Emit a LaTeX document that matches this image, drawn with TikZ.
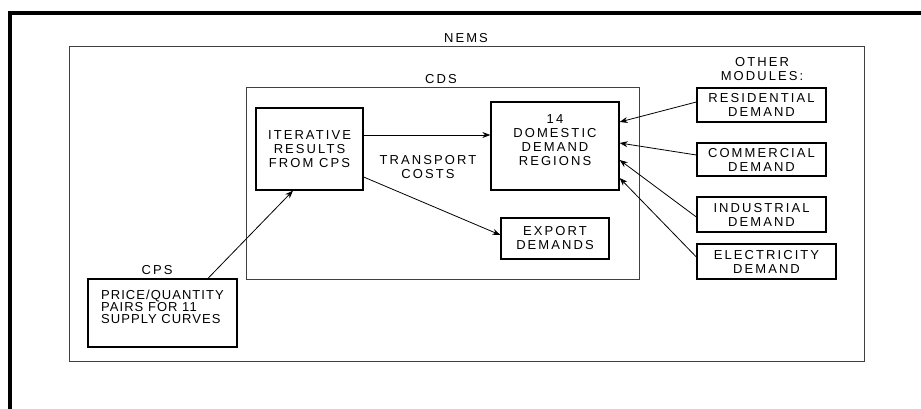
\documentclass[tikz,border=0pt]{standalone}
\usepackage{fontspec}
\setmainfont{Liberation Sans}[LetterSpace=16]
\newfontfamily\cpsfont{Liberation Sans}[LetterSpace=8]
\usetikzlibrary{arrows.meta}

\begin{document}
\begin{tikzpicture}[x = 1pt, y = -1pt, % one unit per pixel, y downwards
                > = {Stealth[length=8pt, width=6pt]}, % arrow head style
                line width = 0.8pt % line style
            ]

            \tikzstyle{every node}=[inner sep = 0pt, align = center,
            font = \fontsize{13}{14}\selectfont]
            \tikzstyle{box}=[draw, line width = 1.3pt]
            \tikzstyle{frame}=[draw = black!75, line width = 1pt]

            \useasboundingbox (0,0) rectangle (921,409);
            \draw[line width = 3.5pt] (10,409) -- (10,13) -- (921,13);

            % module frames and their titles
            \node (1) [frame, minimum width = 795pt, minimum height = 314pt]
            at (466.5,204) {}; \node (11) at (466,38) {NEMS};
            \node (2) [frame, minimum width = 393pt, minimum height = 191pt]
            at (442.5,183.5) {}; \node (12) at (441,79) {CDS};

            \node (3) [box, minimum width = 107pt, minimum height = 82pt] at
            (309.5,149) {ITERATIVE\\RESULTS\\FROM CPS}; \node (4) [box,
            minimum width = 128pt, minimum height = 88pt, text depth = 12pt]
            at (555,146) {14\\DOMESTIC\\DEMAND\\REGIONS}; \node (5) [box,
            minimum width = 108pt, minimum height = 41pt] at (555,238.5)
            {EXPORT\\DEMANDS}; \node (15) at (428,167) {TRANSPORT\\COSTS};

            \node (14) at (762,69) {OTHER\\MODULES:}; \node (6) [box, minimum
            width = 129pt, minimum height = 34pt] at (761.5,105)
            {RESIDENTIAL\\DEMAND}; \node (7) [box, minimum width = 129pt,
            minimum height = 33pt] at (761.5,159.5) {COMMERCIAL\\DEMAND};
            \node (8) [box, minimum width = 129pt, minimum height = 35pt] at
            (761.5,214.5) {INDUSTRIAL\\DEMAND}; \node (9) [box, minimum width =
            139pt, minimum height = 35pt] at (766.5,261.5)
            {ELECTRICITY\\DEMAND};

            \node (10) [box, minimum width = 149pt, minimum height = 68pt,
            align = left, text depth = 12pt,
            font = \cpsfont\fontsize{13}{12}\selectfont] at
            (162.5,313) {PRICE/QUANTITY\\PAIRS FOR 11\\SUPPLY CURVES};
            \node (13) at (157,270) {CPS};

            \path[->] ([yshift=14pt]3.east) edge ([yshift=11pt]4.west);
            \path[->] ([yshift=-28pt]3.east) edge ([yshift=3.5pt]5.west);
            \path[->] ([xshift=45.5pt]10.north) edge ([xshift=-16.5pt]3.south);
            \path[->] ([yshift=3pt]6.west) edge ([yshift=24pt]4.east);
            \path[->] ([yshift=4.5pt]7.west) edge ([yshift=3pt]4.east);
            \path[->] ([yshift=-2.5pt]8.west) edge ([yshift=-14pt]4.east);
            \path[->] ([yshift=4.5pt]9.west) edge ([yshift=-32pt]4.east);
\end{tikzpicture}
\end{document}
